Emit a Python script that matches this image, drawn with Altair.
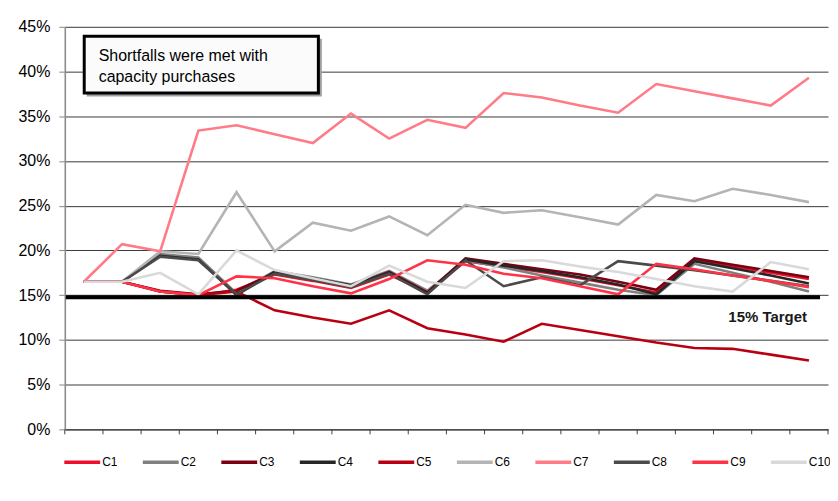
import altair as alt
import pandas as pd

periods = list(range(20))
series_names = ["C1", "C2", "C3", "C4", "C5", "C6", "C7", "C8", "C9", "C10"]

c1 = [16.5, 16.5, 15.4, 15.0, 15.6, 17.3, 16.6, 15.8, 17.3, 15.3, 18.8, 18.2, 17.6, 16.9, 16.1, 15.3, 18.9, 18.2, 17.5, 16.8]
c2 = [16.5, 16.5, 19.6, 19.2, 15.2, 17.7, 17.0, 16.2, 17.7, 15.5, 18.9, 18.1, 17.2, 16.4, 15.6, 15.0, 18.5, 17.5, 16.5, 15.4]
c3 = [16.5, 16.5, 15.5, 15.1, 15.5, 17.5, 16.8, 16.0, 17.6, 15.3, 19.1, 18.5, 17.9, 17.3, 16.5, 15.6, 19.1, 18.4, 17.7, 17.0]
c4 = [16.5, 16.5, 19.4, 19.0, 15.0, 17.6, 16.9, 16.1, 17.5, 15.2, 19.0, 18.3, 17.7, 17.0, 16.2, 15.1, 18.8, 18.0, 17.2, 16.3]
c5 = [16.5, 16.5, 15.4, 15.0, 15.4, 13.3, 12.5, 11.8, 13.3, 11.3, 10.6, 9.8, 11.8, 11.1, 10.4, 9.7, 9.1, 9.0, 8.35, 7.7]
c6 = [16.5, 16.5, 19.9, 19.6, 26.5, 19.9, 23.1, 22.2, 23.8, 21.7, 25.1, 24.2, 24.5, 23.7, 22.9, 26.2, 25.5, 26.9, 26.2, 25.4]
c7 = [16.5, 20.7, 19.9, 33.4, 34.0, 33.0, 32.0, 35.3, 32.5, 34.6, 33.7, 37.6, 37.1, 36.2, 35.4, 38.6, 37.8, 37.0, 36.2, 39.3]
c8 = [16.5, 16.5, 19.3, 18.9, 15.1, 17.4, 16.7, 15.9, 17.4, 15.1, 18.9, 16.0, 17.0, 16.1, 18.8, 18.3, 17.8, 17.2, 16.6, 16.0]
c9 = [16.5, 16.5, 15.4, 15.0, 17.1, 16.9, 16.0, 15.2, 16.8, 18.9, 18.4, 17.4, 16.9, 16.0, 15.1, 18.5, 17.9, 17.2, 16.6, 15.9]
c10 = [16.5, 16.5, 17.5, 15.1, 20.0, 17.8, 16.9, 16.0, 18.3, 16.5, 15.8, 18.8, 18.9, 18.2, 17.6, 16.8, 16.0, 15.4, 18.7, 17.9]

series_colors = ["#ee0f2d", "#808080", "#7a0012", "#262626", "#b80012",
                 "#b4b4b4", "#ff7b87", "#4a4a4a", "#ff3347", "#d9d9d9"]

target_value = [15]
target_label = ["15% Target"]
note_lines = ["Shortfalls were met with", "capacity purchases"]
y_ticks = [0, 5, 10, 15, 20, 25, 30, 35, 40, 45]
x_ticks = [p - 0.5 for p in periods] + [periods[-1] + 0.5]

rows = []
for name, vals in zip(series_names, [c1, c2, c3, c4, c5, c6, c7, c8, c9, c10]):
    for p, v in zip(periods, vals):
        rows.append({"series": name, "period": p, "value": v})
df = pd.DataFrame(rows)

FONT = "Liberation Sans"

x_scale = alt.Scale(domain=[-0.5, 19.5], nice=False, zero=False)
y_scale = alt.Scale(domain=[0, 45], nice=False)

lines = alt.Chart(df).mark_line(strokeWidth=2.6).encode(
    x=alt.X("period:Q", scale=x_scale,
            axis=alt.Axis(values=x_ticks, labels=False, grid=False, title=None,
                          ticks=False, domainColor="#404040", domainWidth=1.2)),
    y=alt.Y("value:Q", scale=y_scale,
            axis=alt.Axis(values=y_ticks, labelExpr="datum.value + '%'", title=None,
                          grid=True, gridColor="#3a3a3a", gridWidth=1,
                          tickSize=6, tickColor="#888888", domainColor="#8c8c8c",
                          domainWidth=1.6, labelFontSize=16, labelFont=FONT,
                          labelColor="#000000", labelPadding=9)),
    color=alt.Color("series:N", sort=series_names,
                    scale=alt.Scale(domain=series_names, range=series_colors),
                    legend=alt.Legend(orient="none", legendX=-2.5, legendY=417,
                                      direction="horizontal", columns=10, title=None,
                                      symbolType="stroke", symbolSize=1296,
                                      symbolStrokeWidth=3.5, labelFontSize=12,
                                      labelFont=FONT, labelColor="#000000",
                                      labelOffset=0, columnPadding=17.8,
                                      gridAlign="each")),
)

xticks_layer = alt.Chart(pd.DataFrame({"tx": x_ticks})).mark_rule(
    color="#404040", strokeWidth=1
).encode(x=alt.X("tx:Q", scale=x_scale), y=alt.value(404), y2=alt.value(409))

target = alt.Chart(pd.DataFrame({"t": target_value})).mark_rule(
    color="#000000", strokeWidth=4, yOffset=2
).encode(y=alt.Y("t:Q", scale=y_scale), x=alt.value(1), x2=alt.value(758))

target_text = alt.Chart(pd.DataFrame({"label": target_label, "p": [periods[-1]], "v": [12.6]})).mark_text(
    align="right", baseline="middle", fontSize=15, fontWeight="bold", font=FONT,
    color="#1a1a1a", dx=-2
).encode(x=alt.X("p:Q", scale=x_scale), y=alt.Y("v:Q", scale=y_scale), text="label:N")

one = pd.DataFrame({"k": [0]})
shadow = alt.Chart(one).mark_rect(fill="#a0a0a0").encode(
    x=alt.value(22), x2=alt.value(258), y=alt.value(12), y2=alt.value(70))
box = alt.Chart(one).mark_rect(fill="#fbfbfb", stroke="#000000", strokeWidth=3).encode(
    x=alt.value(19.5), x2=alt.value(254.5), y=alt.value(9.5), y2=alt.value(66.5))
note = alt.Chart(one).mark_text(
    align="left", baseline="alphabetic", fontSize=16, font=FONT, color="#000000",
    lineHeight=21
).encode(x=alt.value(34), y=alt.value(34), text=alt.value(note_lines))

chart = alt.layer(lines, xticks_layer, target, target_text, shadow, box, note).properties(
    width=766, height=404,
    autosize=alt.AutoSizeParams(type="none"),
    padding={"left": 57, "top": 18, "right": 2, "bottom": 58},
).configure_view(strokeWidth=0)

chart.save("out.html", embed_options={"renderer": "svg", "actions": False})
